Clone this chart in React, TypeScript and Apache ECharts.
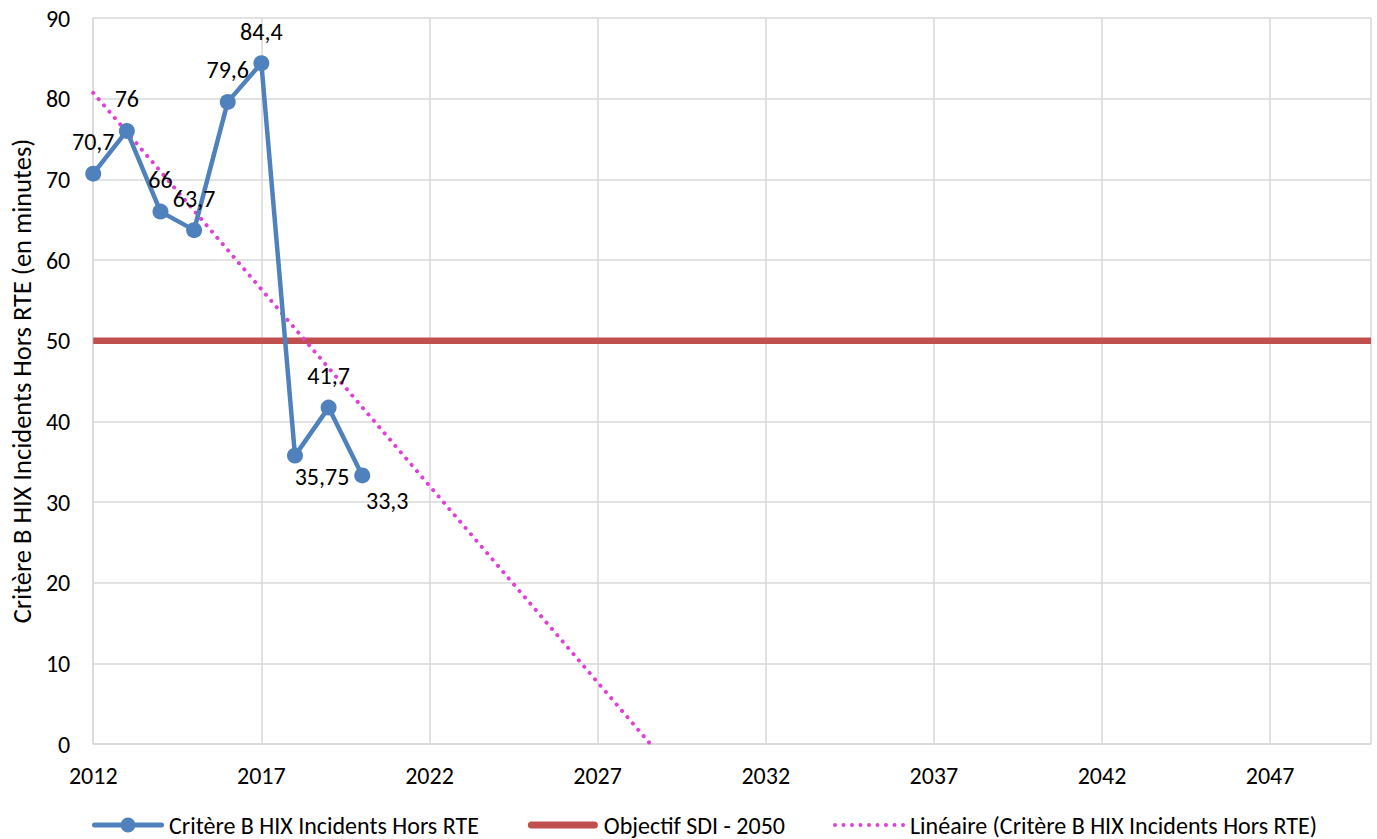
import React, { useEffect, useRef } from "react";
import * as echarts from "echarts";

const years = [2012, 2013, 2014, 2015, 2016, 2017, 2018, 2019, 2020];
const critereB = [70.7, 76, 66, 63.7, 79.6, 84.4, 35.75, 41.7, 33.3];
const objectiveX = [2012, 2050];
const objectiveY = [50, 50];
// linear trend end points
const trendX = [2012, 2028.57];
const trendY = [80.73, 0];
const yTicks = { min: 0, max: 90, interval: 10 };
const xTicks = { min: 2012, max: 2050, interval: 5 };

const seriesNames = [
  "Critère B HIX Incidents Hors RTE",
  "Objectif SDI - 2050",
  "Linéaire (Critère B HIX Incidents Hors RTE)",
];

const BLUE = "#4F81BD";
const RED = "#C0504D";
const PINK = "#E03FD8";
const FONT = "Carlito, Calibri, Lato, sans-serif";

// legend icon shapes (72 x 16 box, with tiny corner slivers to fix the bbox)
const SLIVERS = "M0,0 L0.01,0 L0,0.01 Z M72,16 L71.99,16 L72,15.99 Z";
const ICON_LINE_DOT =
  "path://" +
  SLIVERS +
  " M2.5,5.5 L69.5,5.5 A2.5,2.5 0 0 1 69.5,10.5 L2.5,10.5 A2.5,2.5 0 0 1 2.5,5.5 Z" +
  " M36,0.5 A7.5,7.5 0 1 1 36,15.5 A7.5,7.5 0 1 1 36,0.5 Z";
const ICON_THICK =
  "path://" +
  SLIVERS +
  " M4.5,4.5 L67.5,4.5 A3.5,3.5 0 0 1 67.5,11.5 L4.5,11.5 A3.5,3.5 0 0 1 4.5,4.5 Z";
const ICON_DOTS = (() => {
  let d = "path://" + SLIVERS;
  for (let i = 0; i < 9; i++) {
    const cx = 2 + 8.6 * i;
    d += ` M${cx},6 A2,2 0 1 1 ${cx},10 A2,2 0 1 1 ${cx},6 Z`;
  }
  return d;
})();

export default function App() {
  const ref = useRef<HTMLDivElement>(null);
  useEffect(() => {
    if (!ref.current) return;
    const chart = echarts.init(ref.current, null, { renderer: "svg" });
    const fmt = (v: number) => String(v).replace(".", ",");
    const labelPos = (i: number) => {
      if (i === 6) return { position: "bottom", offset: [27, 0], distance: 1 };
      if (i === 8) return { position: "bottom", offset: [25, 0], distance: 5 };
      return { position: "top", distance: 12 };
    };
    chart.setOption({
      animation: false,
      textStyle: { fontFamily: FONT },
      grid: { left: 93, right: 6, top: 18, bottom: 95 },
      legend: {
        left: 92,
        top: 813,
        padding: 0,
        itemWidth: 72,
        itemHeight: 16,
        itemGap: 48,
        itemStyle: { borderWidth: 0 },
        textStyle: { fontSize: 24, lineHeight: 20, color: "#000", fontFamily: FONT },
        data: [
          { name: seriesNames[0], icon: ICON_LINE_DOT, itemStyle: { color: BLUE, borderWidth: 0 } },
          { name: seriesNames[1], icon: ICON_THICK, itemStyle: { color: RED, borderWidth: 0 } },
          { name: seriesNames[2], icon: ICON_DOTS, itemStyle: { color: PINK, borderWidth: 0 } },
        ],
      },
      xAxis: {
        type: "value",
        min: xTicks.min,
        max: xTicks.max,
        interval: xTicks.interval,
        axisLine: { show: true, lineStyle: { color: "#D9D9D9", width: 1.5 } },
        axisTick: { show: false },
        splitLine: { show: true, lineStyle: { color: "#D9D9D9", width: 1.5 } },
        axisLabel: {
          fontSize: 24,
          color: "#000",
          margin: 19,
          showMaxLabel: false,
          formatter: (v: number) => (v === xTicks.max ? "" : String(v)),
        },
      },
      yAxis: {
        type: "value",
        min: yTicks.min,
        max: yTicks.max,
        interval: yTicks.interval,
        name: "Critère B HIX Incidents Hors RTE (en minutes)",
        nameLocation: "middle",
        nameGap: 57,
        nameTextStyle: { fontSize: 26.5, color: "#000" },
        axisLine: { show: true, lineStyle: { color: "#D9D9D9", width: 1.5 } },
        axisTick: { show: false },
        splitLine: { show: true, lineStyle: { color: "#D9D9D9", width: 1.5 } },
        axisLabel: { fontSize: 24, color: "#000", margin: 23 },
      },
      series: [
        {
          name: seriesNames[1],
          type: "line",
          data: objectiveX.map((x, i) => [x, objectiveY[i]]),
          symbol: "none",
          lineStyle: { color: RED, width: 6.5 },
          itemStyle: { color: RED },
          z: 2,
        },
        {
          name: seriesNames[2],
          type: "line",
          data: trendX.map((x, i) => [x, trendY[i]]),
          symbol: "none",
          lineStyle: { color: PINK, width: 4, type: [0.1, 8.2], cap: "round" },
          itemStyle: { color: PINK },
          z: 3,
        },
        {
          name: seriesNames[0],
          type: "line",
          data: years.map((y, i) => ({
            value: [y, critereB[i]],
            label: labelPos(i),
          })),
          symbol: "circle",
          symbolSize: 16,
          lineStyle: { color: BLUE, width: 4.5 },
          itemStyle: { color: BLUE },
          label: {
            show: true,
            fontSize: 24,
            color: "#000",
            formatter: (p: any) => fmt(p.value[1]),
          },
          z: 4,
        },
      ],
    });
    return () => chart.dispose();
  }, []);
  return (
    <div
      ref={ref}
      style={{ position: "fixed", left: 0, top: 0, width: 1377, height: 839, background: "#fff" }}
    />
  );
}
